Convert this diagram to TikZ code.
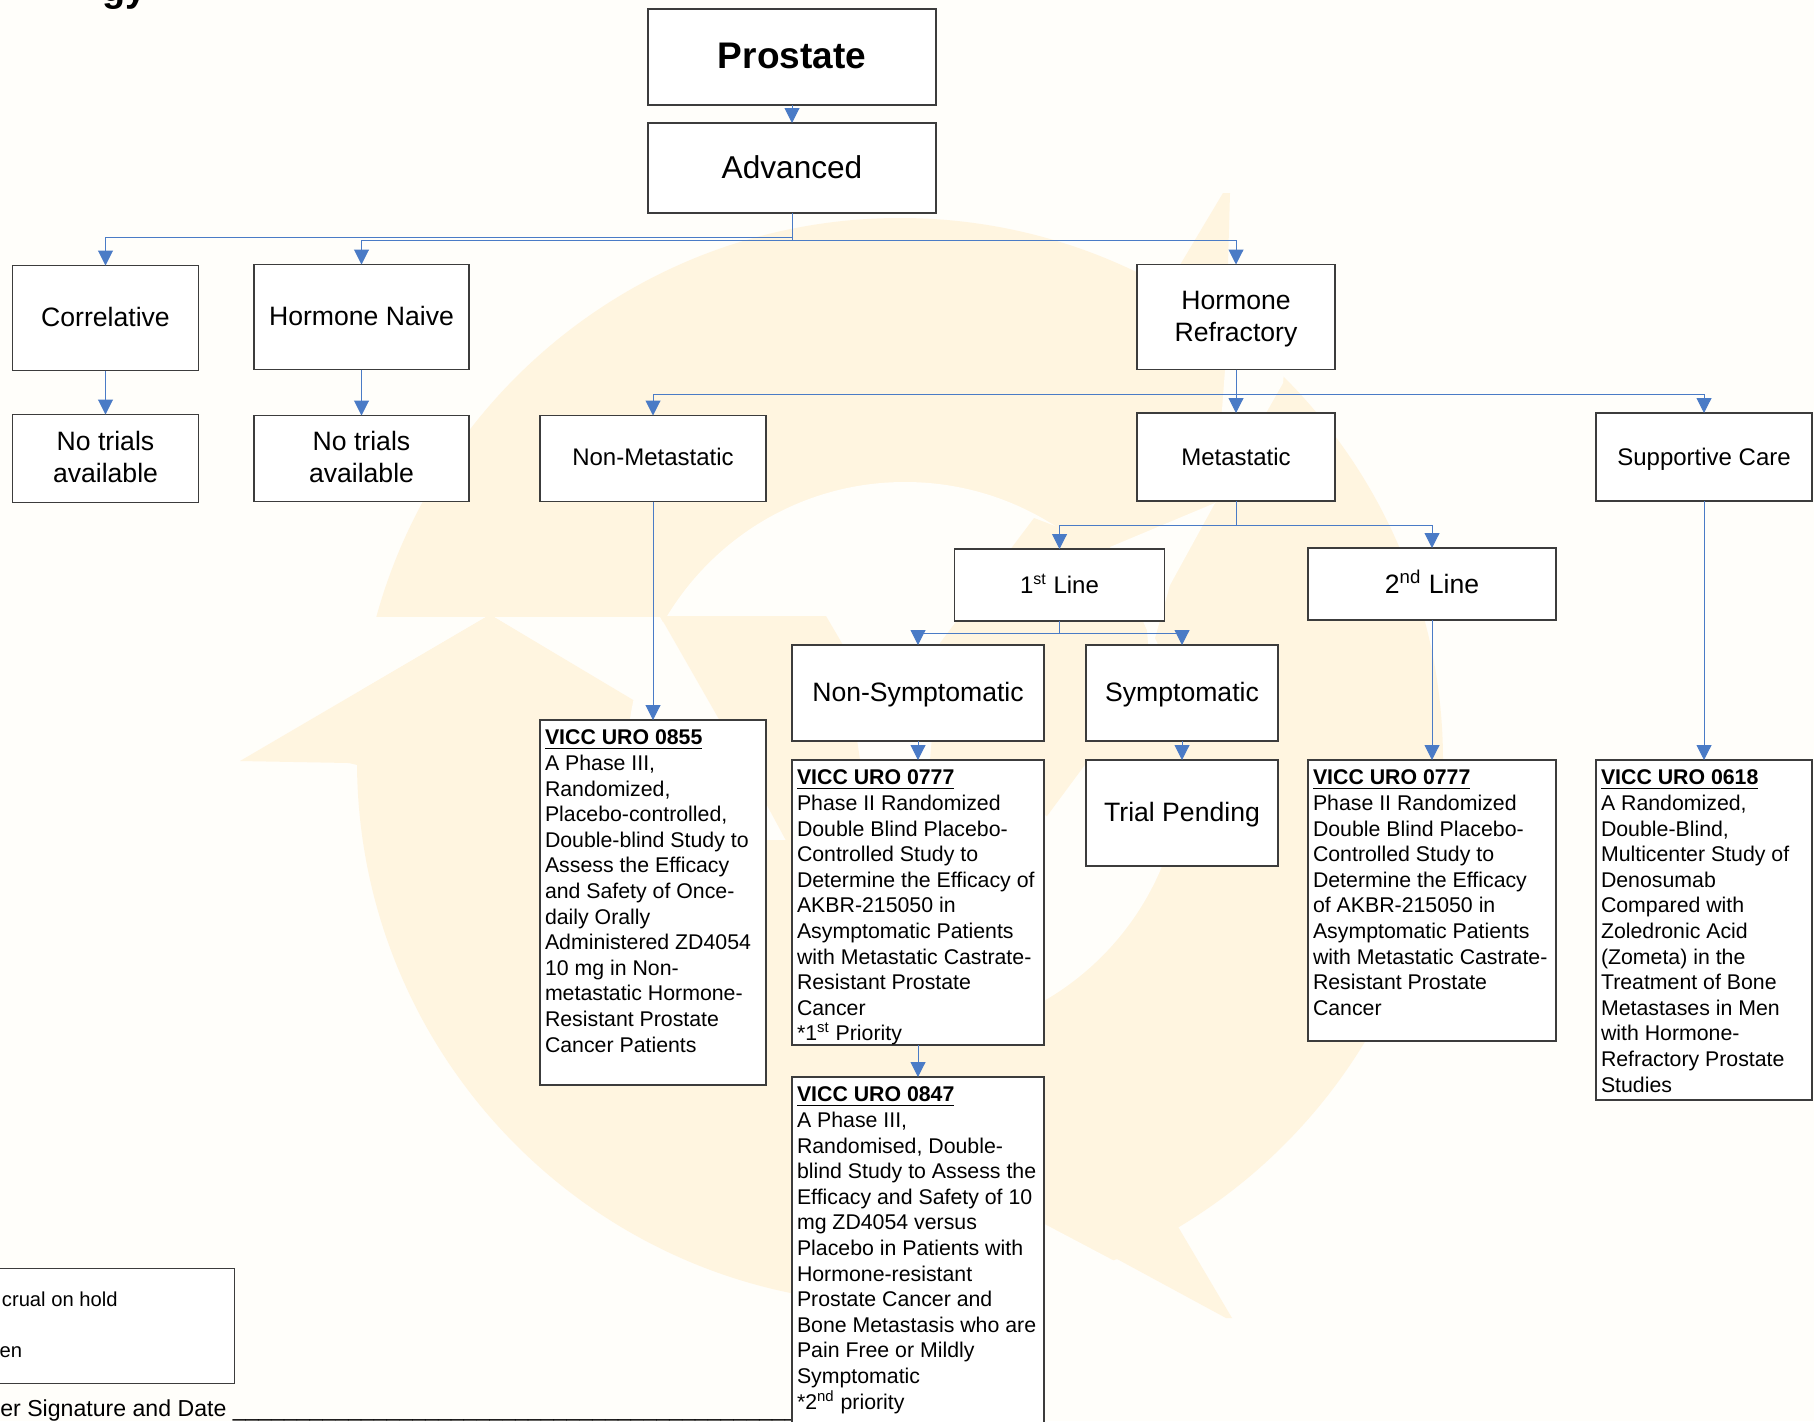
\documentclass[tikz,border=0pt]{standalone}
\usepackage{fontspec}
\setmainfont{Liberation Sans}
\usepackage{tikz}
\usetikzlibrary{arrows.meta}
\definecolor{paper}{HTML}{FFFEFA}
\definecolor{cream}{HTML}{FFF5E0}
\definecolor{linkblue}{HTML}{4A7BC6}
\definecolor{boxline}{HTML}{3C3C3C}
\newlength\px
\setlength\px{.5pt}
\newcommand{\trialtext}[3]{\parbox[c][\dimexpr#1\px-20\px][t]{\dimexpr#2\px-10\px}{\raggedright #3}}
\newcommand{\lift}[1]{\rule[-#1pt]{0pt}{0pt}}
\newcommand{\drop}[1]{\rule{0pt}{#1pt}}
\tikzset{
	box/.style 2 args={draw=boxline,line width=.6pt,fill=white,inner sep=0pt,outer sep=0pt,
		align=center,minimum width=#1*.5pt,minimum height=#2*.5pt},
	trial/.style={draw=boxline,line width=.6pt,fill=white,anchor=north west,inner xsep=5\px,
		inner ysep=10\px,outer sep=0pt,font=\fontsize{10.65}{12.8}\selectfont},
	large/.style={font=\fontsize{13.3}{16}\selectfont},
	medium/.style={font=\fontsize{12}{14}\selectfont},
	link/.style={draw=linkblue,line width=.5pt,-{Triangle[length=7.5pt,width=7.5pt,fill=linkblue]}},
	side/.style={anchor=base,inner sep=0pt,font=\fontsize{10.1}{12}\selectfont}
}
\begin{document}
\begin{tikzpicture}[x=.5pt,y=-.5pt]
	\useasboundingbox (0,0) rectangle (1814,1421);
	\clip (0,0) rectangle (1814,1421);
	\fill[paper] (0,0) rectangle (1814,1421);
	% watermark
	\fill[cream] (900,761) circle[radius=543];
	\fill[paper] (1215,503) -- (1225,370) -- (1230,193) -- (1300,200) -- (1283,383) -- cycle;
	\fill[paper] (300,726) -- (486,617) -- (360,617) -- cycle;
	\fill[paper] (494,617) -- (660,617) -- (748,770) -- cycle;
	\fill[paper] (980,1190) -- (1230,1322) -- (1230,1400) -- (980,1400) -- cycle;
	\fill[cream] (1168,285) -- (1223,193) -- (1230,193) -- (1225,370) -- (1180,400) -- cycle;
	\fill[cream] (240,761) -- (486,617) -- (494,617) -- (645,707) -- (500,800) -- (349,763) -- cycle;
	\fill[cream] (1045,1180) -- (1045,1220) -- (1226,1318) -- (1232,1318) -- (1177,1225) -- cycle;
	\fill[paper] (905,760) circle[radius=278];
	\fill[cream] (1034,518) -- (940,643) -- (930,760) -- (1047,816) -- (1087,762) -- (1190,762)
		-- (1190,700) -- (1152,700) -- (1147,630) -- (1110,547) -- cycle;
	\fill[cream] (660,616) -- (826,616) -- (843,645) -- (860,760) -- (790,848) -- (748,770) -- cycle;
	\fill[cream] (700,840) -- (800,840) -- (800,1020) -- (700,1000) -- cycle;
	\fill[paper] (1215,503) -- (1110,547) -- (1147,630) -- (1150,645) -- (1153,645) -- (1170,585) -- cycle;
	% title and legend
	\node[anchor=base west,inner sep=0pt,font=\bfseries\fontsize{18.9}{20}\selectfont] (title) at (102,1) {gy};
	\node[draw=boxline,line width=.6pt,fill=white,inner sep=0pt,minimum width=137.5pt,minimum height=57.5pt] (legend) at (97.2,1326) {};
	\node[side,anchor=base east] (hold) at (118,1306) {crual on hold};
	\node[side,anchor=base east] (open) at (22.5,1357) {en};
	\node[anchor=base west,inner sep=0pt,font=\fontsize{11.55}{13}\selectfont] (signature) at (0,1416)
		{er Signature and Date \_\_\_\_\_\_\_\_\_\_\_\_\_\_\_\_\_\_\_\_\_\_\_\_\_\_\_\_\_\_\_\_\_\_\_\_\_\_\_\_\_\_\_\_};
	% boxes
	\node[box={288}{96},font=\bfseries\fontsize{18.5}{20}\selectfont] (prostate) at (792,57) {Prostate\lift{1.2}};
	\node[box={288}{90},font=\fontsize{15.8}{18}\selectfont] (advanced) at (792,168) {Advanced\lift{1.2}};
	\node[box={186}{105},large] (correlative) at (105.5,318) {Correlative\lift{1.2}};
	\node[box={215}{105},large] (naive) at (361.5,317) {Hormone Naive\lift{1.2}};
	\node[box={198}{105},large] (refractory) at (1236,317) {\drop{11}Hormone\\Refractory};
	\node[box={186}{88},large] (notrialsA) at (105.5,458.5) {No trials\\available\lift{1.4}};
	\node[box={215}{86},large] (notrialsB) at (361.5,458.5) {No trials\\available\lift{1.4}};
	\node[box={226}{86},medium] (nonmeta) at (653,458.5) {Non-Metastatic\lift{1.7}};
	\node[box={198}{88},medium] (meta) at (1236,457) {Metastatic};
	\node[box={216}{88},medium] (supportive) at (1704,457) {\drop{11.1}Supportive Care};
	\node[box={210}{72},medium] (first) at (1059.5,585) {1\textsuperscript{st} Line\lift{1.2}};
	\node[box={248}{72},large] (second) at (1432,584) {2\textsuperscript{nd} Line\lift{2.3}};
	\node[box={252}{96},large] (nonsymp) at (918,693) {\drop{11}Non-Symptomatic};
	\node[box={192}{96},large] (symp) at (1182,693) {\drop{11}Symptomatic};
	\node[box={192}{106},large] (pending) at (1182,813) {\drop{11}Trial Pending};
	% trials
	\node[trial] (viccA) at (540,720) {\trialtext{365}{226}{\underline{\textbf{VICC URO 0855}}\\A Phase III,\\Randomized,\\Placebo-controlled,\\Double-blind Study to\\Assess the Efficacy\\and Safety of Once-\\daily Orally\\Administered ZD4054\\10 mg in Non-\\metastatic Hormone-\\Resistant Prostate\\Cancer Patients}};
	\node[trial] (viccB) at (792,760) {\trialtext{285}{252}{\underline{\textbf{VICC URO 0777}}\\Phase II Randomized\\Double Blind Placebo-\\Controlled Study to\\Determine the Efficacy of\\AKBR-215050 in\\Asymptomatic Patients\\with Metastatic Castrate-\\Resistant Prostate\\Cancer\\{}*1\textsuperscript{st} Priority}};
	\node[trial] (viccC) at (792,1077) {\trialtext{370}{252}{\underline{\textbf{VICC URO 0847}}\\A Phase III,\\Randomised, Double-\\blind Study to Assess the\\Efficacy and Safety of 10\\mg ZD4054 versus\\Placebo in Patients with\\Hormone-resistant\\Prostate Cancer and\\Bone Metastasis who are\\Pain Free or Mildly\\Symptomatic\\{}*2\textsuperscript{nd} priority}};
	\node[trial] (viccD) at (1308,760) {\trialtext{281}{248}{\underline{\textbf{VICC URO 0777}}\\Phase II Randomized\\Double Blind Placebo-\\Controlled Study to\\Determine the Efficacy\\of AKBR-215050 in\\Asymptomatic Patients\\with Metastatic Castrate-\\Resistant Prostate\\Cancer}};
	\node[trial] (viccE) at (1596,760) {\trialtext{340}{216}{\underline{\textbf{VICC URO 0618}}\\A Randomized,\\Double-Blind,\\Multicenter Study of\\Denosumab\\Compared with\\Zoledronic Acid\\(Zometa) in the\\Treatment of Bone\\Metastases in Men\\with Hormone-\\Refractory Prostate\\Studies}};
	% connectors
	\draw[link] (prostate) -- (advanced);
	\draw[link] (advanced.south) -- ++(0,24) -| (correlative.north);
	\draw[link] (advanced.south) -- ++(0,27) -| (naive.north);
	\draw[link] (advanced.south) -- ++(0,27) -| (refractory.north);
	\draw[link] (correlative) -- (notrialsA);
	\draw[link] (naive) -- (notrialsB);
	\draw[link] (refractory.south) -- ++(0,24.5) -| (nonmeta.north);
	\draw[link] (refractory) -- (meta);
	\draw[link] (refractory.south) -- ++(0,24.5) -| (supportive.north);
	\draw[link] (nonmeta) -- (viccA);
	\draw[link] (meta.south) -- ++(0,24) -| (first.north);
	\draw[link] (meta.south) -- ++(0,24) -| (second.north);
	\draw[link] (supportive) -- (viccE);
	\draw[link] (first.south) -- ++(0,12) -| (nonsymp.north);
	\draw[link] (first.south) -- ++(0,12) -| (symp.north);
	\draw[link] (second) -- (viccD);
	\draw[link] (nonsymp) -- (viccB);
	\draw[link] (symp) -- (pending);
	\draw[link] (viccB) -- (viccC);
\end{tikzpicture}
\end{document}
